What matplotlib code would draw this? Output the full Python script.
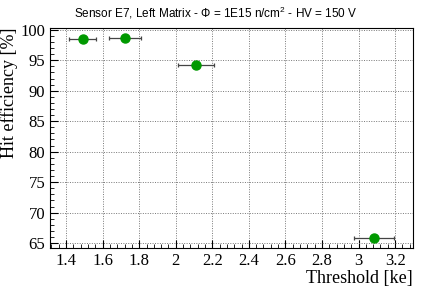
import matplotlib.pyplot as plt
from matplotlib.ticker import MultipleLocator

plt.rcParams['mathtext.default'] = 'regular'

threshold = [1.49, 1.722, 2.111, 3.086]
thr_lo = [0.072, 0.087, 0.097, 0.11]
thr_hi = [0.072, 0.087, 0.097, 0.11]
efficiency = [98.5, 98.65, 94.3, 65.8]

fig = plt.figure(figsize=(4.24, 2.88), dpi=100)
ax = fig.add_axes([0.118, 0.139, 0.856, 0.764])

ax.errorbar(threshold, efficiency, xerr=[thr_lo, thr_hi], fmt='o', color='#009900',
            markersize=6.5, ecolor='#444444', elinewidth=0.9, capsize=1.5, capthick=0.9)

ax.set_xlim(1.312, 3.298)
ax.set_ylim(64.2, 100.3)
ax.xaxis.set_major_locator(MultipleLocator(0.2))
ax.xaxis.set_minor_locator(MultipleLocator(0.04))
ax.yaxis.set_major_locator(MultipleLocator(5))
ax.yaxis.set_minor_locator(MultipleLocator(1))
ax.grid(True, which='major', linestyle=(0, (1, 1.5)), color='#777777', linewidth=0.7)
ax.tick_params(which='both', direction='in', top=False, right=False, labelsize=12)
ax.tick_params(which='major', length=6)
ax.tick_params(which='minor', length=3)
for lbl in ax.get_xticklabels() + ax.get_yticklabels():
    lbl.set_family('Liberation Serif')
ax.set_xticks([1.4, 1.6, 1.8, 2.0, 2.2, 2.4, 2.6, 2.8, 3.0, 3.2])
ax.set_xticklabels(['1.4', '1.6', '1.8', '2', '2.2', '2.4', '2.6', '2.8', '3', '3.2'],
                   family='Liberation Serif', fontsize=12)

ax.set_xlabel('Threshold [ke]', family='Liberation Serif', fontsize=13, loc='right', labelpad=1)
ax.set_ylabel('Hit efficiency [%]', family='Liberation Serif', fontsize=13, loc='top', labelpad=2)
fig.text(0.508, 0.955, 'Sensor E7, Left Matrix - Φ = 1E15 n/cm$^{2}$ - HV = 150 V',
         ha='center', va='center', family='Liberation Sans', fontsize=8.5)

fig.savefig('out.png', dpi=100)
